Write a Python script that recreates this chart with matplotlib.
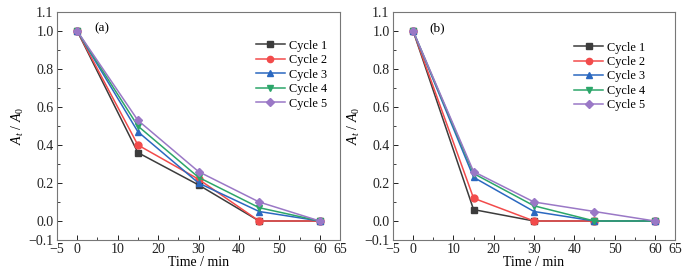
import matplotlib
matplotlib.use("Agg")
import matplotlib.pyplot as plt
from matplotlib.ticker import FixedLocator

plt.rcParams['font.family'] = ['Liberation Serif', 'DejaVu Serif']
plt.rcParams['mathtext.fontset'] = 'custom'
plt.rcParams['mathtext.it'] = 'Liberation Serif:italic'
plt.rcParams['mathtext.rm'] = 'Liberation Serif'

time = [0, 15, 30, 45, 60]
labels = ["Cycle 1", "Cycle 2", "Cycle 3", "Cycle 4", "Cycle 5"]

a_cycle1 = [1.0, 0.36, 0.19, 0.0, 0.0]
a_cycle2 = [1.0, 0.40, 0.22, 0.0, 0.0]
a_cycle3 = [1.0, 0.47, 0.20, 0.05, 0.0]
a_cycle4 = [1.0, 0.50, 0.23, 0.07, 0.0]
a_cycle5 = [1.0, 0.53, 0.26, 0.10, 0.0]

b_cycle1 = [1.0, 0.06, 0.0, 0.0, 0.0]
b_cycle2 = [1.0, 0.12, 0.0, 0.0, 0.0]
b_cycle3 = [1.0, 0.23, 0.05, 0.0, 0.0]
b_cycle4 = [1.0, 0.25, 0.08, 0.0, 0.0]
b_cycle5 = [1.0, 0.26, 0.10, 0.05, 0.0]

xticks = [-5, 0, 10, 20, 30, 40, 50, 60, 65]
yticks = [-0.1, 0.0, 0.2, 0.4, 0.6, 0.8, 1.0, 1.1]

colors = ['#3c3c3c', '#f24b4b', '#2b68c0', '#2ca66a', '#9a78c6']
markers = ['s', 'o', '^', 'v', 'D']
msizes = [4.5, 5, 5, 5, 4.2]

fig = plt.figure(figsize=(6.88, 2.80), dpi=100)
ax_a = fig.add_axes([57/688, 40/280, 283/688, 228/280])
ax_b = fig.add_axes([393/688, 40/280, 282/688, 228/280])

panels = [
    (ax_a, [a_cycle1, a_cycle2, a_cycle3, a_cycle4, a_cycle5], "(a)", 4.3, (0.68, 0.905)),
    (ax_b, [b_cycle1, b_cycle2, b_cycle3, b_cycle4, b_cycle5], "(b)", 4.0, (0.62, 0.897)),
]

for ax, series, tag, tx, lpos in panels:
    for vals, lab, c, m, ms in zip(series, labels, colors, markers, msizes):
        ax.plot(time, vals, color=c, marker=m, markersize=ms, linewidth=1.1, label=lab)
    ax.set_xlim(-5, 65)
    ax.set_ylim(-0.1, 1.1)
    ax.xaxis.set_major_locator(FixedLocator(xticks))
    ax.yaxis.set_major_locator(FixedLocator(yticks))
    ax.set_xticklabels(["\u22125", "0", "10", "20", "30", "40", "50", "60", "65"])
    ax.set_yticklabels(["\u22120.1", "0.0", "0.2", "0.4", "0.6", "0.8", "1.0", "1.1"])
    ax.xaxis.set_minor_locator(FixedLocator([5, 15, 25, 35, 45, 55]))
    ax.yaxis.set_minor_locator(FixedLocator([0.1, 0.3, 0.5, 0.7, 0.9]))
    ax.tick_params(which='both', direction='in', labelsize=10, colors='#222222')
    ax.tick_params(which='major', length=3.5, width=0.7, pad=2.5)
    ax.tick_params(which='minor', length=2, width=0.6)
    for s in ax.spines.values():
        s.set_color('#777777')
        s.set_linewidth(0.8)
    ax.set_xlabel("Time / min", fontsize=10, labelpad=0)
    ax.set_ylabel(r"$A_t$ / $A_0$", fontsize=10, labelpad=2)
    ax.text(tx, 1.0, tag, fontsize=9.5)
    ax.legend(loc='upper left', bbox_to_anchor=lpos, frameon=False, fontsize=8.8,
              handlelength=2.4, handletextpad=0.3, labelspacing=0.2, borderpad=0,
              markerscale=0.9)

fig.savefig("out.png", dpi=100)
